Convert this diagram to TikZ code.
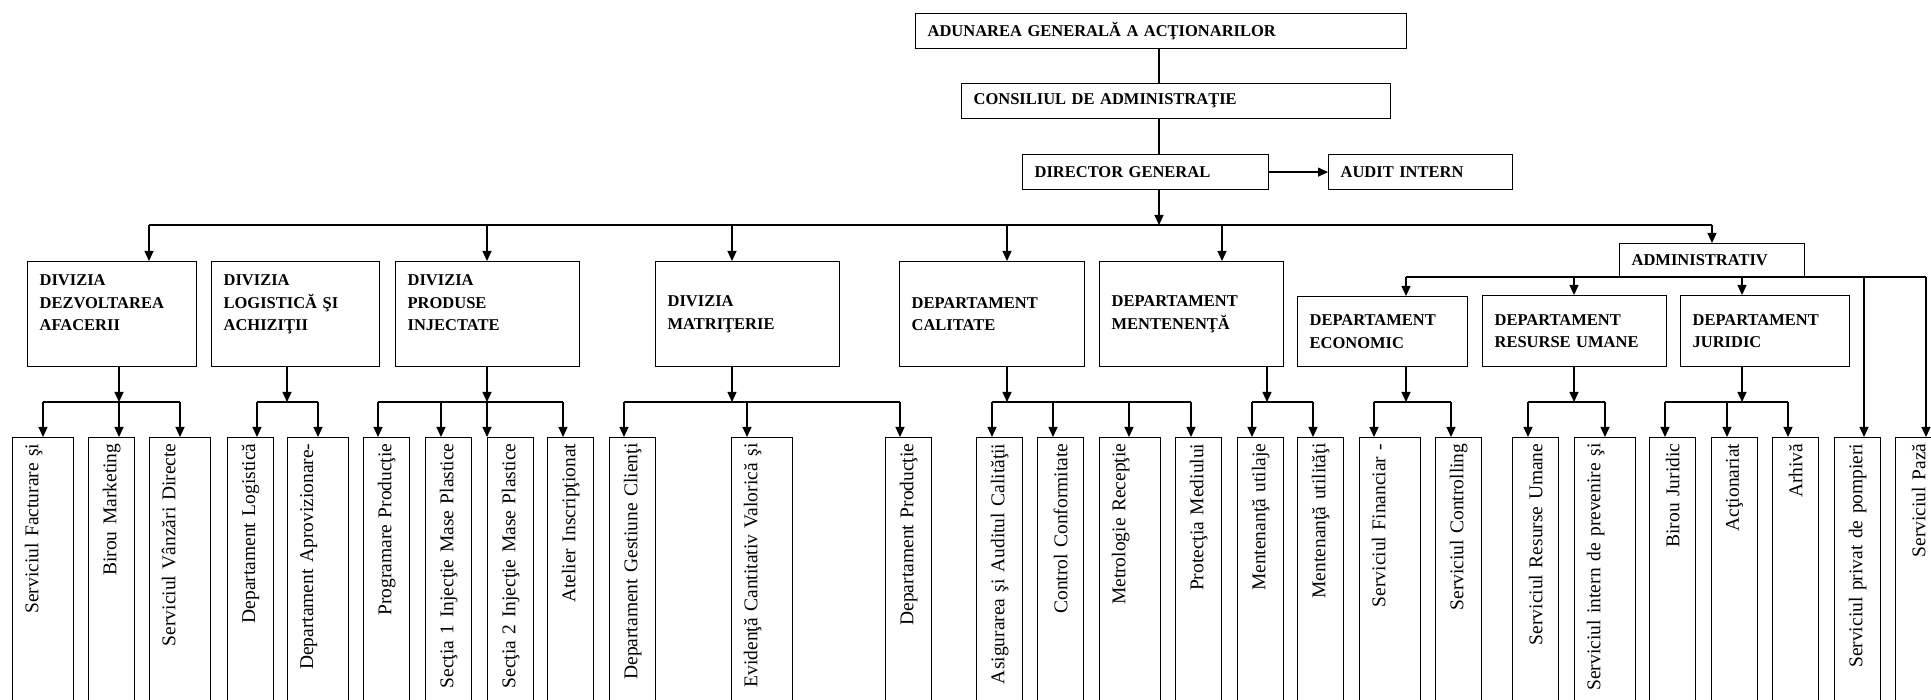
\documentclass[tikz,border=0pt]{standalone}
\usepackage{fontspec}
\setmainfont{Liberation Serif}
\usetikzlibrary{arrows.meta}

\begin{document}
\begin{tikzpicture}[x=1pt,y=-1pt,line width=1.2pt,>={Triangle[length=10pt,width=9pt]},
  unit/.style={draw,anchor=north west,inner xsep=12pt,inner ysep=0pt,align=left,font=\bfseries\fontsize{16.5}{22.5}\selectfont},
  leaf/.style={draw,rotate=90,anchor=north east,minimum width=290pt,minimum height=46pt,text width=278pt,inner xsep=6pt,inner ysep=0pt,align=right,font=\fontsize{19.5}{23}\selectfont},
  wide/.style={minimum height=61pt}]
 \useasboundingbox (0,0) rectangle (1931,700);
 \clip (0,0) rectangle (1931,700);
 \fill[white] (0,0) rectangle (1931,700);

 % conducere
 \node[unit,minimum width=491pt,text width=467pt,minimum height=35pt] (aga) at (915,13) {ADUNAREA GENERALĂ A ACŢIONARILOR};
 \node[unit,minimum width=429pt,text width=405pt,minimum height=35pt] (ca) at (961,83) {CONSILIUL DE ADMINISTRAŢIE};
 \node[unit,minimum width=246pt,text width=222pt,minimum height=35pt] (dg) at (1022,154) {DIRECTOR GENERAL};
 \node[unit,minimum width=184pt,text width=160pt,minimum height=35pt] (audit) at (1328,154) {AUDIT INTERN};
 \coordinate (top) at (1159,225); %magistrala
 \draw (aga.south -| top) -- (ca.north -| top);
 \draw (ca.south -| top) -- (dg.north -| top);
 \draw[->] (dg.south -| top) -- (top);
 \draw[->] (dg.east) -- (audit.west);

 % divizii si departamente
 \node[unit,minimum width=169pt,text width=145pt,minimum height=105pt] (dda) at (27,261) {DIVIZIA\\DEZVOLTAREA\\AFACERII\\~};
 \node[unit,minimum width=168pt,text width=144pt,minimum height=105pt] (dla) at (211,261) {DIVIZIA\\LOGISTICĂ ŞI\\ACHIZIŢII\\~};
 \node[unit,minimum width=184pt,text width=160pt,minimum height=105pt] (dpi) at (395,261) {DIVIZIA\\PRODUSE\\INJECTATE\\~};
 \node[unit,minimum width=184pt,text width=160pt,minimum height=105pt] (dm) at (655,261) {DIVIZIA\\MATRIŢERIE};
 \node[unit,minimum width=185pt,text width=161pt,minimum height=105pt] (dc) at (899,261) {DEPARTAMENT\\CALITATE};
 \node[unit,minimum width=184pt,text width=160pt,minimum height=105pt] (dmt) at (1099,261) {DEPARTAMENT\\MENTENENŢĂ};
 \node[unit,minimum width=185pt,text width=161pt,minimum height=34pt] (adm) at (1619,243) {ADMINISTRATIV};
 \node[unit,minimum width=170pt,text width=146pt,minimum height=70pt] (de) at (1297,296) {DEPARTAMENT\\ECONOMIC};
 \node[unit,minimum width=184pt,text width=160pt,minimum height=71pt] (dru) at (1482,295) {DEPARTAMENT\\RESURSE UMANE};
 \node[unit,minimum width=169pt,text width=145pt,minimum height=71pt] (dj) at (1680,295) {DEPARTAMENT\\JURIDIC};

 \coordinate (t1) at (149,225);
 \coordinate (t2) at (487,225);
 \coordinate (t3) at (732,225);
 \coordinate (t4) at (1007,225);
 \coordinate (t5) at (1222,225);
 \coordinate (t6) at (1712,225);
 \draw (t1) -- (t6);
 \draw[->] (t1) -- (t1 |- dda.north);
 \draw[->] (t2) -- (t2 |- dpi.north);
 \draw[->] (t3) -- (t3 |- dm.north);
 \draw[->] (t4) -- (t4 |- dc.north);
 \draw[->] (t5) -- (t5 |- dmt.north);
 \draw[->] (t6) -- (t6 |- adm.north);

 \coordinate (b1) at (1406,277); %administrativ
 \coordinate (b2) at (1574,277);
 \coordinate (b3) at (1742,277);
 \coordinate (b4) at (1864,277);
 \coordinate (b5) at (1926,277);
 \draw (b1) -- (b5);
 \draw[->] (b1) -- (b1 |- de.north);
 \draw[->] (b2) -- (b2 |- dru.north);
 \draw[->] (b3) -- (b3 |- dj.north);

 % servicii
 \node[leaf,wide] (l1) at (12,437) {Serviciul Facturare şi\\~};
 \node[leaf] (l2) at (88,437) {Birou Marketing};
 \node[leaf,wide] (l3) at (149,437) {Serviciul Vânzări Directe\\~};
 \node[leaf] (l4) at (227,437) {Departament Logistică};
 \node[leaf,wide] (l5) at (287,437) {Departament Aprovizionare-\\~};
 \node[leaf] (l6) at (363,437) {Programare Producţie};
 \node[leaf] (l7) at (425,437) {Secţia 1 Injecţie Mase Plastice};
 \node[leaf] (l8) at (487,437) {Secţia 2 Injecţie Mase Plastice};
 \node[leaf] (l9) at (547,437) {Atelier Inscripţionat};
 \node[leaf] (l10) at (609,437) {Departament Gestiune Clienţi};
 \node[leaf,wide] (l11) at (731,437) {Evidenţă Cantitativ Valorică şi\\~};
 \node[leaf] (l12) at (885,437) {Departament Producţie};
 \node[leaf] (l13) at (976,437) {Asigurarea şi Auditul Calităţii};
 \node[leaf] (l14) at (1037,437) {Control Conformitate};
 \node[leaf,wide] (l15) at (1099,437) {Metrologie Recepţie\\~};
 \node[leaf] (l16) at (1175,437) {Protecţia Mediului};
 \node[leaf] (l17) at (1237,437) {Mentenanţă utilaje};
 \node[leaf] (l18) at (1297,437) {Mentenanţă utilităţi};
 \node[leaf,wide] (l19) at (1359,437) {Serviciul Financiar -\\~};
 \node[leaf] (l20) at (1435,437) {Serviciul Controlling};
 \node[leaf] (l21) at (1512,437) {Serviciul Resurse Umane};
 \node[leaf,wide] (l22) at (1574,437) {Serviciul intern de prevenire şi\\~};
 \node[leaf] (l23) at (1649,437) {Birou Juridic};
 \node[leaf] (l24) at (1711,437) {Acţionariat};
 \node[leaf] (l25) at (1772,437) {Arhivă};
 \node[leaf] (l26) at (1834,437) {Serviciul privat de pompieri};
 \node[leaf] (l27) at (1895,437) {Serviciul Pază};

 \coordinate (d1) at (119,402);
 \coordinate (d2) at (287,402);
 \coordinate (d3) at (487,402);
 \coordinate (d4) at (732,402);
 \coordinate (d5) at (1007,402);
 \coordinate (d6) at (1267,402);
 \coordinate (d7) at (1406,402);
 \coordinate (d8) at (1574,402);
 \coordinate (d9) at (1742,402);
 \draw[->] (dda.south -| d1) -- (d1);
 \draw[->] (dla.south -| d2) -- (d2);
 \draw[->] (dpi.south -| d3) -- (d3);
 \draw[->] (dm.south -| d4) -- (d4);
 \draw[->] (dc.south -| d5) -- (d5);
 \draw[->] (dmt.south -| d6) -- (d6);
 \draw[->] (de.south -| d7) -- (d7);
 \draw[->] (dru.south -| d8) -- (d8);
 \draw[->] (dj.south -| d9) -- (d9);

 \coordinate (p1) at (43,402);
 \coordinate (p2) at (119,402);
 \coordinate (p3) at (180,402);
 \coordinate (p4) at (257,402);
 \coordinate (p5) at (318,402);
 \coordinate (p6) at (378,402);
 \coordinate (p7) at (441,402);
 \coordinate (p8) at (487,402);
 \coordinate (p9) at (563,402);
 \coordinate (p10) at (624,402);
 \coordinate (p11) at (747,402);
 \coordinate (p12) at (900,402);
 \coordinate (p13) at (992,402);
 \coordinate (p14) at (1053,402);
 \coordinate (p15) at (1129,402);
 \coordinate (p16) at (1191,402);
 \coordinate (p17) at (1252,402);
 \coordinate (p18) at (1313,402);
 \coordinate (p19) at (1374,402);
 \coordinate (p20) at (1451,402);
 \coordinate (p21) at (1528,402);
 \coordinate (p22) at (1605,402);
 \coordinate (p23) at (1665,402);
 \coordinate (p24) at (1727,402);
 \coordinate (p25) at (1788,402);
 \draw (p1) -- (p3);
 \draw (p4) -- (p5);
 \draw (p6) -- (p9);
 \draw (p10) -- (p12);
 \draw (p13) -- (p16);
 \draw (p17) -- (p18);
 \draw (p19) -- (p20);
 \draw (p21) -- (p22);
 \draw (p23) -- (p25);
 \draw[->] (p1) -- (p1 |- l1.east);
 \draw[->] (p2) -- (p2 |- l2.east);
 \draw[->] (p3) -- (p3 |- l3.east);
 \draw[->] (p4) -- (p4 |- l4.east);
 \draw[->] (p5) -- (p5 |- l5.east);
 \draw[->] (p6) -- (p6 |- l6.east);
 \draw[->] (p7) -- (p7 |- l7.east);
 \draw[->] (p8) -- (p8 |- l8.east);
 \draw[->] (p9) -- (p9 |- l9.east);
 \draw[->] (p10) -- (p10 |- l10.east);
 \draw[->] (p11) -- (p11 |- l11.east);
 \draw[->] (p12) -- (p12 |- l12.east);
 \draw[->] (p13) -- (p13 |- l13.east);
 \draw[->] (p14) -- (p14 |- l14.east);
 \draw[->] (p15) -- (p15 |- l15.east);
 \draw[->] (p16) -- (p16 |- l16.east);
 \draw[->] (p17) -- (p17 |- l17.east);
 \draw[->] (p18) -- (p18 |- l18.east);
 \draw[->] (p19) -- (p19 |- l19.east);
 \draw[->] (p20) -- (p20 |- l20.east);
 \draw[->] (p21) -- (p21 |- l21.east);
 \draw[->] (p22) -- (p22 |- l22.east);
 \draw[->] (p23) -- (p23 |- l23.east);
 \draw[->] (p24) -- (p24 |- l24.east);
 \draw[->] (p25) -- (p25 |- l25.east);
 \draw[->] (b4) -- (b4 |- l26.east);
 \draw[->] (b5) -- (b5 |- l27.east);
\end{tikzpicture}
\end{document}
